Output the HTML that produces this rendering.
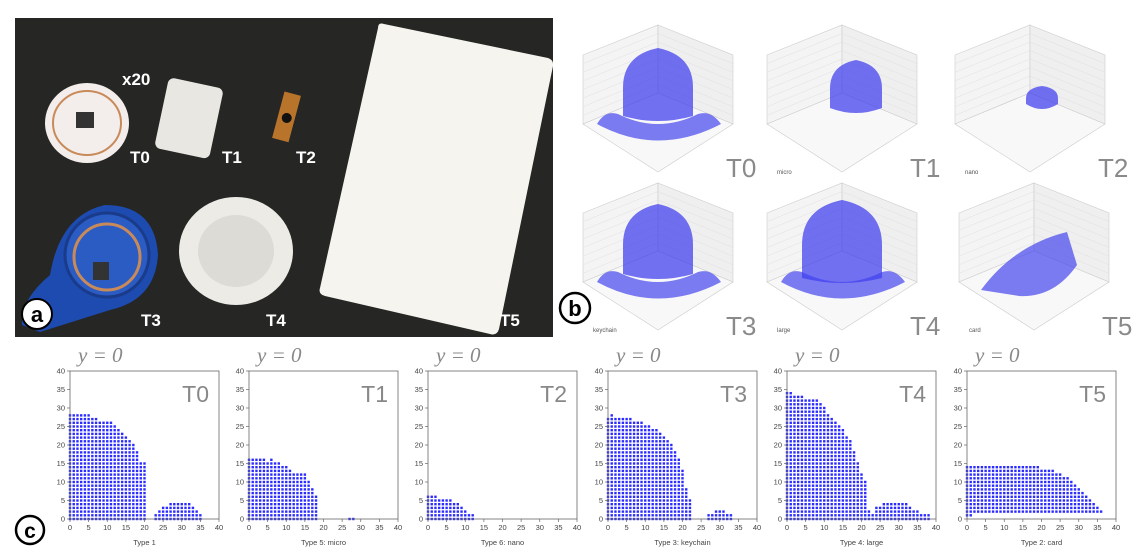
<!DOCTYPE html>
<html><head><meta charset="utf-8"><style>
body{margin:0;background:#fff;width:1135px;height:557px;overflow:hidden;font-family:"Liberation Sans",sans-serif}
svg{display:block}
</style></head><body>
<svg id="fig" width="1135" height="557" xmlns="http://www.w3.org/2000/svg">
<g id="photo">
<rect x="15" y="18" width="538" height="319" fill="#262624"/>
<ellipse cx="87" cy="123" rx="42" ry="40" fill="#f3eeec"/>
<ellipse cx="87" cy="123" rx="34" ry="32" fill="none" stroke="#c98a5a" stroke-width="2"/>
<rect x="76" y="112" width="18" height="16" fill="#333"/>
<g transform="rotate(12 188 118)"><rect x="161" y="82" width="56" height="72" rx="6" fill="#e9e7e2"/></g>
<g transform="rotate(15 287 117)"><rect x="278" y="93" width="17" height="48" fill="#b9742c"/><circle cx="287" cy="118" r="5" fill="#111"/></g>
<path d="M22 325 Q20 300 50 275 Q60 215 105 205 Q155 205 158 255 Q155 300 110 310 L40 332 Z" fill="#1d4bb0"/>
<circle cx="107" cy="255" r="42" fill="#2a5cc4" stroke="#1a3b8a" stroke-width="3"/>
<circle cx="107" cy="257" r="33" fill="none" stroke="#c98a5a" stroke-width="3"/>
<rect x="93" y="262" width="16" height="18" fill="#333"/>
<ellipse cx="236" cy="251" rx="57" ry="54" fill="#ecebe6"/>
<ellipse cx="236" cy="251" rx="38" ry="36" fill="#dcdbd5"/>
<path d="M384 24 Q378 22 378 28 L320 288 Q318 294 325 296 L490 334 Q497 336 499 329 L553 66 Q554 60 548 58 Z" fill="#f5f4ef"/>
<g fill="#fff" font-weight="bold" font-size="17">
<text x="122" y="85">x20</text>
<text x="130" y="163">T0</text>
<text x="222" y="163">T1</text>
<text x="296" y="163">T2</text>
<text x="141" y="326">T3</text>
<text x="266" y="326">T4</text>
<text x="500" y="326">T5</text>
</g>
<circle cx="37" cy="314" r="15" fill="#fff" stroke="#000" stroke-width="2"/>
<text x="37" y="322" text-anchor="middle" font-size="22" font-weight="bold">a</text>
</g>
<circle cx="575" cy="308" r="15" fill="#fff" stroke="#000" stroke-width="2.5"/>
<text x="575" y="316" text-anchor="middle" font-size="22" font-weight="bold">b</text>
<circle cx="30" cy="530" r="14" fill="#fff" stroke="#000" stroke-width="2.5"/>
<text x="30" y="538" text-anchor="middle" font-size="21" font-weight="bold">c</text>
<g id="p3d"></g>
<g id="p2d"></g>
</svg>
<script>
var NS="http://www.w3.org/2000/svg";
function mk(tag,at,parent){var e=document.createElementNS(NS,tag);for(var k in at)e.setAttribute(k,at[k]);parent.appendChild(e);return e;}
// ---- 3D panels ----
var labels3d=["T0","T1","T2","T3","T4","T5"];
var axisNames3d=["","micro","nano","keychain","large","card"];
var domeW=[35,26,16,35,40,0];
var domeH=[72,52,22,74,82,0];
var domeDx=[0,14,12,0,0,0];
var domeBase=[108,100,96,108,112,0];
var ringShow=[1,0,0,1,1,0];
var g3=document.getElementById("p3d");
var ox3=[583,767,955,583,767,959], oy3=[12,12,12,170,170,170];
for(var i=0;i<6;i++){
  var ox=ox3[i],oy=oy3[i];
  var g=mk("g",{},g3);
  
  
  var P=function(x,y){return (ox+x)+","+(oy+y);};
  mk("polygon",{points:[P(0,43),P(75,13),P(75,81),P(0,112)].join(" "),fill:"#f4f4f4",stroke:"#ccc","stroke-width":0.6},g);
  mk("polygon",{points:[P(75,13),P(150,43),P(150,112),P(75,81)].join(" "),fill:"#efefef",stroke:"#ccc","stroke-width":0.6},g);
  mk("polygon",{points:[P(0,112),P(75,81),P(150,112),P(75,160)].join(" "),fill:"#f8f8f8",stroke:"#ccc","stroke-width":0.6},g);
  for(var k=1;k<8;k++){var t=k/8;
    mk("line",{x1:ox,y1:oy+43+69*t,x2:ox+75,y2:oy+13+68*t,stroke:"#e0e0e0","stroke-width":0.5},g);
    mk("line",{x1:ox+75,y1:oy+13+68*t,x2:ox+150,y2:oy+43+69*t,stroke:"#e0e0e0","stroke-width":0.5},g);
  }
  var cx=ox+75+domeDx[i], base=oy+domeBase[i];
  if(i===5){
    mk("path",{d:"M"+(ox+22)+","+(oy+120)+" Q"+(ox+55)+","+(oy+75)+" "+(ox+108)+","+(oy+62)+" L"+(ox+118)+","+(oy+95)+" Q"+(ox+95)+","+(oy+128)+" "+(ox+60)+","+(oy+126)+" Z",fill:"#4444ee","fill-opacity":0.7},g);
  } else {
    var w=domeW[i],h=domeH[i];
    mk("path",{d:"M"+(cx-w)+","+(base-4)+" L"+(cx-w)+","+(base-h*0.45)+" Q"+(cx-w)+","+(base-h*0.9)+" "+cx+","+(base-h)+" Q"+(cx+w)+","+(base-h*0.9)+" "+(cx+w)+","+(base-h*0.45)+" L"+(cx+w)+","+(base-4)+" Q"+cx+","+(base+6)+" "+(cx-w)+","+(base-4)+" Z",fill:"#3c3cee","fill-opacity":0.72},g);
    if(ringShow[i]){
      mk("path",{d:"M"+(ox+14)+","+(oy+112)+" Q"+(ox+22)+","+(oy+98)+" "+(ox+35)+","+(oy+102)+" Q"+(ox+75)+","+(oy+122)+" "+(ox+115)+","+(oy+102)+" Q"+(ox+128)+","+(oy+98)+" "+(ox+138)+","+(oy+112)+" Q"+(ox+75)+","+(oy+145)+" "+(ox+14)+","+(oy+112)+" Z",fill:"#4040ee","fill-opacity":0.68},g);
    }
  }
  var tl=mk("text",{x:ox+143,y:oy+165,"font-size":26,fill:"#8a8a8a"},g);tl.textContent=labels3d[i];
  
  
  if(axisNames3d[i]){var an=mk("text",{x:ox+10,y:oy+162,"font-size":6,fill:"#555"},g);an.textContent=axisNames3d[i];}
}
// ---- 2D panels data ----
var plotLabels=["T0","T1","T2","T3","T4","T5"];
var xTitles=["Type 1","Type 5: micro","Type 6: nano","Type 3: keychain","Type 4: large","Type 2: card"];
var xTicks=[0,5,10,15,20,25,30,35,40];
var yTicks=[0,5,10,15,20,25,30,35,40];
var heightsT0=[28,28,28,28,28,28,27,27,26,26,26,26,25,24,23,22,21,20,18,15,15,-1,-1,1,2,3,3,4,4,4,4,4,4,3,2,1];
var heightsT1=[16,16,16,16,16,15,16,15,15,14,14,13,12,12,12,12,10,8,6,-1,-1,-1,-1,-1,-1,-1,-1,0,0];
var heightsT2=[6,6,6,5,5,5,5,4,4,3,2,1,1];
var heightsT3=[27,28,27,27,27,27,27,26,26,26,25,25,24,24,23,22,21,20,18,16,13,8,5,-1,-1,-1,-1,1,1,2,2,2,1,1];
var heightsT4=[34,34,33,33,33,32,32,32,32,31,30,28,27,26,25,24,22,21,18,15,12,10,2,1,3,3,4,4,4,4,4,4,4,3,2,2,1,1,1];
var heightsT5=[14,14,14,14,14,14,14,14,14,14,14,14,14,14,14,14,14,14,14,14,13,13,13,13,12,12,11,11,10,9,8,7,6,5,4,3,2,1,1];
var startsT5=2;
var allHeights=[heightsT0,heightsT1,heightsT2,heightsT3,heightsT4,heightsT5];
var axLeft=[70,249,428,608,787,967], axTop=371, axW=149, axH=148;
var g2=document.getElementById("p2d");
for(var p=0;p<6;p++){
  var L=axLeft[p];
  var sx=function(v){return L+v/40*axW;}, sy=function(v){return axTop+axH-v/40*axH;};
  var g=mk("g",{},g2);
  
  
  var yl=mk("text",{x:L+8,y:362,"font-size":21,"font-style":"italic","font-family":"Liberation Serif,serif",fill:"#888"},g);
  yl.textContent="y = 0";
  
  
  var hs=allHeights[p];
  for(var x=0;x<hs.length;x++){
    var y0=(p===5)?startsT5:0;
    if(p===5&&x<2)y0=1;
    for(var y=y0;y<=hs[x];y++){
      var d=mk("rect",{x:sx(x)-1.2,y:sy(y)-1.2,width:2.4,height:2.4,fill:"#2b2bff"},g);
      
      
    }
  }
  mk("rect",{x:L,y:axTop,width:axW,height:axH,fill:"none",stroke:"#666","stroke-width":0.8},g);
  for(var t=0;t<xTicks.length;t++){
    var xx=sx(xTicks[t]);
    mk("line",{x1:xx,y1:axTop+axH,x2:xx,y2:axTop+axH+3,stroke:"#666","stroke-width":0.7},g);
    var tt=mk("text",{x:xx,y:axTop+axH+11,"font-size":7.5,"text-anchor":"middle",fill:"#444"},g);tt.textContent=xTicks[t];
    
    
  }
  for(var t=0;t<yTicks.length;t++){
    var yy=sy(yTicks[t]);
    mk("line",{x1:L-3,y1:yy,x2:L,y2:yy,stroke:"#666","stroke-width":0.7},g);
    var ty=mk("text",{x:L-5,y:yy+2.5,"font-size":7.5,"text-anchor":"end",fill:"#444"},g);ty.textContent=yTicks[t];
    
    
  }
  var xt=mk("text",{x:L+axW/2,y:545,"font-size":7.5,"text-anchor":"middle",fill:"#444"},g);xt.textContent=xTitles[p];
  
  
  var pl=mk("text",{x:L+axW-10,y:402,"font-size":23,"text-anchor":"end",fill:"#888"},g);pl.textContent=plotLabels[p];
  
  
}
</script>
</body></html>
